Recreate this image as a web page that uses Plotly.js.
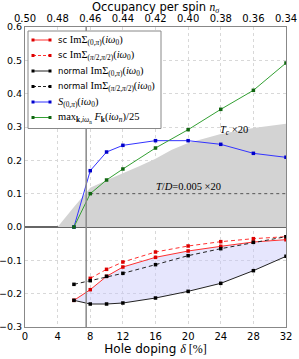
<!DOCTYPE html>
<html><head><meta charset="utf-8">
<script src="https://cdn.plot.ly/plotly-3.0.1.min.js"></script>
<style>html,body{margin:0;padding:0;background:#fff}#chart{width:299px;height:359px}</style>
</head><body><div id="chart"></div>
<script>
// Hole doping (%) for the series
const delta = [6, 8, 10, 12, 16, 20, 24, 28, 32];
const deltaSc = [8, 10, 12, 16, 20, 24, 28, 32];
const scIm0pi = [-0.220, -0.188, -0.148, -0.120, -0.091, -0.072, -0.058, -0.045, -0.038];
const scImPi2 = [-0.154, -0.127, -0.105, -0.075, -0.057, -0.044, -0.035, -0.029];
const normIm0pi = [-0.220, -0.231, -0.231, -0.228, -0.213, -0.193, -0.169, -0.131, -0.088];
const normImPi2 = [-0.172, -0.161, -0.148, -0.139, -0.113, -0.086, -0.065, -0.046, -0.029];
const S0pi = [0.000, 0.169, 0.225, 0.245, 0.259, 0.259, 0.248, 0.221, 0.209];
const maxF = [0.000, 0.100, 0.141, 0.174, 0.237, 0.292, 0.353, 0.410, 0.492];
// Tc x20 region
const tcDelta = [0, 4, 6, 7, 8, 10, 12, 14, 16, 18, 20, 24, 28, 32];
const tcVal =   [0, 0, 0.06, 0.09, 0.118, 0.14, 0.16, 0.182, 0.205, 0.232, 0.252, 0.279, 0.297, 0.310];
// T/D = 0.005 x20 reference
const tdDelta = [8, 32];
const tdVal = [0.1, 0.1];
// vertical marker
const vlineDelta = 7.5;
// tick labels
const xTicks = [0, 4, 8, 12, 16, 20, 24, 28, 32];
const topTickText = ["0.50", "0.48", "0.46", "0.44", "0.42", "0.40", "0.38", "0.36", "0.34"];
const yTicks = [-0.3, -0.2, -0.1, 0, 0.1, 0.2, 0.3, 0.4, 0.5, 0.6];
const yTickText = ["\u22120.3", "\u22120.2", "\u22120.1", "0.0", "0.1", "0.2", "0.3", "0.4", "0.5", "0.6"];

const SERIF = "font-family:'Liberation Serif','DejaVu Serif',serif";
const m = s => `<span style="${SERIF}">${s}</span>`;
const ml = s => `<span style="${SERIF};font-size:10.5px">${s}</span>`;

const series = [
  {x: delta, y: scIm0pi, name: 'sc ' + ml('ImΣ<sub>(0,<i>π</i>)</sub>(<i>iω</i><sub>0</sub>)'), lc: '#ff3030', mc: '#dd0000', dash: 'solid'},
  {x: deltaSc, y: scImPi2, name: 'sc ' + ml('ImΣ<sub>(<i>π</i>/2,<i>π</i>/2)</sub>(<i>iω</i><sub>0</sub>)'), lc: '#ff3030', mc: '#dd0000', dash: '4px,3px'},
  {x: delta, y: normIm0pi, name: 'normal ' + ml('ImΣ<sub>(0,<i>π</i>)</sub>(<i>iω</i><sub>0</sub>)'), lc: '#222', mc: '#000', dash: 'solid'},
  {x: delta, y: normImPi2, name: 'normal ' + ml('ImΣ<sub>(<i>π</i>/2,<i>π</i>/2)</sub>(<i>iω</i><sub>0</sub>)'), lc: '#222', mc: '#000', dash: '4px,3px'},
  {x: delta, y: S0pi, name: ml('<i>S</i><sub>(0,<i>π</i>)</sub>(<i>iω</i><sub>0</sub>)'), lc: '#3333ff', mc: '#0000cc', dash: 'solid'},
  {x: delta, y: maxF, name: ml('max<sub><b>k</b>,<i>iω</i><sub>n</sub></sub> <i>F</i><sub><b>k</b></sub>(<i>iω<sub>n</sub></i>)/25'), lc: '#33a033', mc: '#116611', dash: 'solid'}
];

const mk = 3.5;
const traces = [
  {x: tcDelta, y: tcVal, mode: 'lines', fill: 'tozeroy', fillcolor: '#d3d3d3',
   line: {width: 0, color: '#d3d3d3'}, showlegend: false, hoverinfo: 'skip'},
  {x: delta.concat(delta.slice().reverse()), y: scIm0pi.concat(normIm0pi.slice().reverse()),
   mode: 'lines', fill: 'toself', fillcolor: 'rgba(200,200,250,0.45)', line: {width: 0},
   showlegend: false, hoverinfo: 'skip'},
  {x: tdDelta, y: tdVal, mode: 'lines', line: {color: '#555', width: 1, dash: '3px,3px'},
   showlegend: false, hoverinfo: 'skip'}
].concat(series.map(s => ({x: s.x, y: s.y, mode: 'lines+markers', name: s.name, showlegend: false,
   line: {color: s.lc, width: 1, dash: s.dash}, marker: {color: s.mc, size: mk, symbol: 'square'}})))
 .concat([{x: xTicks, y: xTicks.map(() => null), xaxis: 'x2', mode: 'lines', showlegend: false, hoverinfo: 'skip'}]);

// plot-area pixel geometry -> paper coordinates (for legend box and titles only)
const ML = 25, MT = 27, PW = 261, PH = 300;
const px = v => (v - ML) / PW;
const py = v => 1 - (v - MT) / PH;

const shapes = [
  {type: 'line', xref: 'x', yref: 'paper', x0: vlineDelta, x1: vlineDelta, y0: 0, y1: 1,
   line: {color: '#888', width: 1.5}, layer: 'above'},
  {type: 'rect', xref: 'paper', yref: 'paper', x0: px(28), x1: px(161), y0: py(128.5), y1: py(31),
   fillcolor: '#fff', line: {color: '#888', width: 1}, layer: 'above'}
];
const annotations = [
  {x: 25.6, y: 0.289, xref: 'x', yref: 'y', showarrow: false,
   text: m('<i>T<sub>c</sub></i> ×20'), font: {size: 10.5}},
  {x: 20, y: 0.122, xref: 'x', yref: 'y', showarrow: false,
   text: m('<i>T</i>/<i>D</i>=0.005 ×20'), font: {size: 10.5}},
  {x: 0.5, y: py(7.5), xref: 'paper', yref: 'paper', xanchor: 'center', yanchor: 'middle', showarrow: false,
   text: 'Occupancy per spin ' + m('<i>n<sub>σ</sub></i>'), font: {size: 11.5}}
];
series.forEach((s, i) => {
  const yc = 40 + i * 15.5;
  shapes.push({type: 'line', xref: 'paper', yref: 'paper', x0: px(33), x1: px(50), y0: py(yc), y1: py(yc),
    line: {color: s.lc, width: 1, dash: s.dash === 'solid' ? 'solid' : '3px,2px'}, layer: 'above'});
  [33, 50].forEach(cx => shapes.push({type: 'rect', xref: 'paper', yref: 'paper',
    x0: px(cx - 1.5), x1: px(cx + 1.5), y0: py(yc + 1.5), y1: py(yc - 1.5),
    fillcolor: s.mc, line: {width: 0}, layer: 'above'}));
  annotations.push({x: px(56), y: py(yc), xref: 'paper', yref: 'paper', xanchor: 'left', yanchor: 'middle',
    showarrow: false, text: s.name, font: {size: 8.5}});
});

const axFont = {family: 'DejaVu Sans, sans-serif', size: 10, color: '#000'};
const layout = {
  width: 299, height: 359,
  margin: {l: ML, r: 13, t: MT, b: 32, pad: 0},
  paper_bgcolor: '#fff', plot_bgcolor: '#fff',
  font: {family: 'DejaVu Sans, sans-serif', size: 10, color: '#000'},
  showlegend: false,
  xaxis: {range: [0, 32], tickvals: xTicks, ticktext: xTicks.map(String), tickfont: axFont,
    showgrid: true, gridcolor: '#d8d8d8', griddash: 'dot', gridwidth: 1,
    showline: true, linecolor: '#888', linewidth: 1, mirror: false, ticks: '', zeroline: false,
    title: {text: 'Hole doping ' + m('<i>δ</i> [%]'), font: {size: 12}, standoff: 3}},
  xaxis2: {range: [0, 32], overlaying: 'x', side: 'top', anchor: 'y', tickvals: xTicks, ticktext: topTickText,
    tickfont: axFont, showgrid: false, showline: true, linecolor: '#888', linewidth: 1, ticks: '', zeroline: false},
  yaxis: {range: [-0.3, 0.6], tickvals: yTicks, ticktext: yTickText,
    tickfont: {family: 'DejaVu Sans, sans-serif', size: 9.5, color: '#000'},
    showgrid: true, gridcolor: '#d8d8d8', griddash: 'dot', gridwidth: 1,
    showline: true, linecolor: '#888', linewidth: 1, mirror: true, ticks: '',
    zeroline: true, zerolinecolor: '#666', zerolinewidth: 1.5},
  shapes: shapes,
  annotations: annotations
};
Plotly.newPlot('chart', traces, layout, {displayModeBar: false, staticPlot: true});
</script></body></html>
